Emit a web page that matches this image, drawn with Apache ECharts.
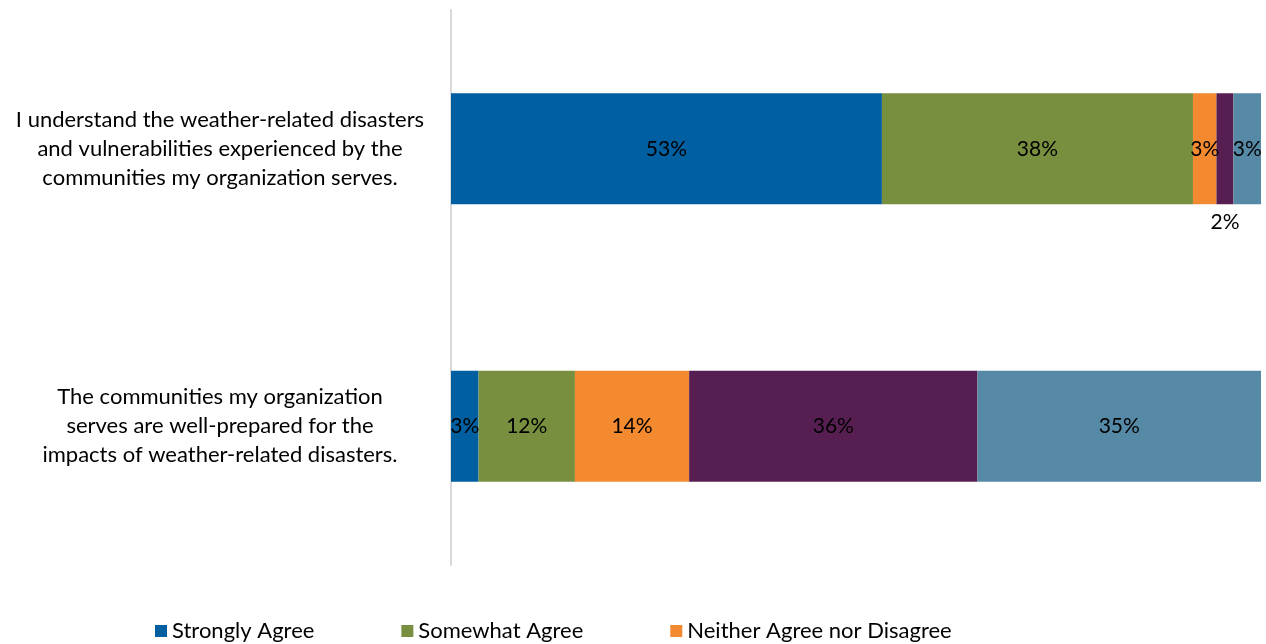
<!DOCTYPE html>
<html>
<head>
<meta charset="utf-8">
<script src="https://cdn.jsdelivr.net/npm/echarts@6/dist/echarts.min.js"></script>
<style>
  html, body { margin: 0; padding: 0; background: #ffffff; }
  #chart { width: 1266px; height: 644px; }
</style>
</head>
<body>
<div id="chart"></div>
<script>
// Survey statements (top to bottom)
const statements = [
  'I understand the weather-related disasters\nand vulnerabilities experienced by the\ncommunities my organization serves.',
  'The communities my organization\nserves are well-prepared for the\nimpacts of weather-related disasters.'
];

// Response categories, in stacking order
const responses = [
  'Strongly Agree',
  'Somewhat Agree',
  'Neither Agree nor Disagree',
  'Somewhat Disagree',
  'Strongly Disagree'
];

// Share of respondents (%) for each statement, per response
const stronglyAgree   = [53.2, 3.4];
const somewhatAgree   = [38.4, 11.9];
const neither         = [2.9, 14.1];
const somewhatDisagree = [2.1, 35.6];
const stronglyDisagree = [3.4, 35.0];

const seriesValues = [stronglyAgree, somewhatAgree, neither, somewhatDisagree, stronglyDisagree];
const colors = ['#005FA0', '#778F3F', '#F38A30', '#571F51', '#5689A6'];

const FONT = 'Lato, "Open Sans", sans-serif';

const chart = echarts.init(document.getElementById('chart'));

const series = responses.map((name, si) => ({
  name: name,
  type: 'bar',
  stack: 'total',
  barWidth: '40%',
  itemStyle: { color: colors[si] },
  label: {
    show: true,
    position: 'inside',
    color: '#000000',
    fontFamily: FONT,
    fontSize: 21,
    formatter: p => Math.round(p.value) + '%'
  },
  data: seriesValues[si].map((v, ci) => {
    // the thin "Somewhat Disagree" segment of the first statement gets its label below the bar
    if (si === 3 && ci === 0) {
      return { value: v, label: { position: 'bottom', distance: 7 } };
    }
    return v;
  })
}));

chart.setOption({
  animation: false,
  backgroundColor: '#ffffff',
  grid: { left: 451, right: 5, top: 10, bottom: 79 },
  legend: {
    data: responses,
    left: 150,
    top: 615,
    width: 860,
    itemWidth: 12,
    itemHeight: 12,
    itemGap: 87,
    icon: 'rect',
    textStyle: { fontFamily: FONT, fontSize: 22, color: '#000000' }
  },
  xAxis: {
    type: 'value',
    min: 0,
    max: 100,
    show: false
  },
  yAxis: {
    type: 'category',
    inverse: true,
    data: statements,
    axisLine: { show: true, lineStyle: { color: '#d9d9d9', width: 2 } },
    axisTick: { show: false },
    axisLabel: {
      align: 'center',
      margin: 231,
      lineHeight: 29,
      fontFamily: FONT,
      fontSize: 22,
      color: '#000000'
    }
  },
  series: series
});
</script>
</body>
</html>
